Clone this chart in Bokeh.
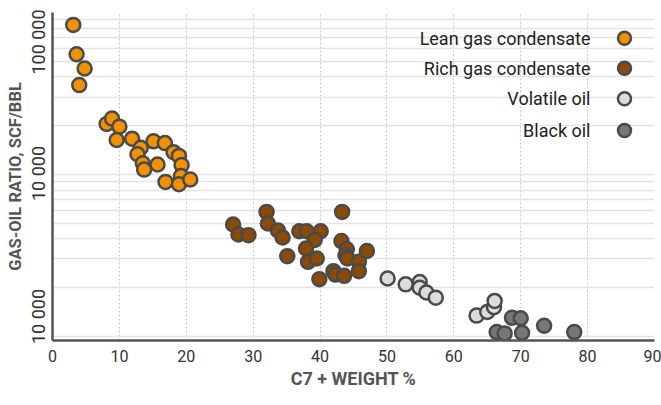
from bokeh.plotting import figure
from bokeh.models import Range1d, LinearScale, FixedTicker, Label, LinearAxis
from bokeh.embed import file_html
from bokeh.resources import INLINE

# ---- data ----
lean_x = [3.1, 3.6, 4.8, 4.0, 8.1, 8.9, 10.0, 9.6, 11.9, 13.2, 12.7, 15.1, 16.8, 18.1, 18.9,
          13.5, 15.7, 13.7, 19.3, 19.2, 16.9, 18.9, 20.6]
lean_y = [83800, 55200, 45100, 35600, 20500, 22100, 19700, 16300, 16600, 14600, 13300, 16000,
          15600, 13700, 13000, 11700, 11500, 10700, 11400, 9770, 8980, 8690, 9290]

rich_x = [27.0, 27.8, 29.3, 32.0, 32.2, 33.7, 34.4, 35.1, 36.9, 38.0, 40.1, 39.2, 37.9, 38.2,
          39.5, 39.9, 43.3, 43.2, 44.0, 43.8, 44.1, 45.8, 45.8, 47.0, 42.0, 42.3, 43.6]
rich_y = [4900, 4250, 4210, 5860, 4970, 4500, 4070, 3120, 4450, 4450, 4450, 3930, 3480, 2880,
          3020, 2250, 5860, 3870, 3440, 3160, 3020, 2880, 2520, 3360, 2520, 2400, 2360]

vol_x = [50.1, 52.8, 54.9, 54.9, 55.9, 57.3, 63.4, 65.0, 66.0, 66.1]
vol_y = [2270, 2090, 2160, 1990, 1860, 1730, 1340, 1410, 1510, 1650]

black_x = [66.4, 67.6, 68.7, 70.0, 70.2, 73.5, 78.0]
black_y = [1060, 1040, 1300, 1290, 1050, 1160, 1060]

series_names = ["Lean gas condensate", "Rich gas condensate", "Volatile oil", "Black oil"]
series_colors = ["#F39200", "#8C4A05", "#DCDCDC", "#777777"]

x_ticks = [0, 10, 20, 30, 40, 50, 60, 70, 80, 90]
y_tick_labels = ["100 000", "10 000", "10 000"]
y_grid_values = [1000, 2000, 3000, 4000, 5000, 6000, 7000, 8000, 9000,
                 10000, 20000, 30000, 40000, 50000, 60000, 70000, 80000, 90000, 100000]

# ---- figure ----
FW, FH = 602, 328
p = figure(width=661, height=405, output_backend="svg", toolbar_location=None,
           x_range=Range1d(0, 90), y_range=Range1d(940, 100000), y_axis_type="log",
           frame_width=FW, frame_height=FH,
           min_border_left=52, min_border_right=7, min_border_top=12, min_border_bottom=65)
p.outline_line_color = None
p.background_fill_color = "white"
p.border_fill_color = "white"

# pixel-like helper ranges (measured from the frame's top-left corner)
p.extra_x_ranges = {"px": Range1d(0, FW)}
p.extra_y_ranges = {"px": Range1d(FH, 0)}
p.extra_x_scales = {"px": LinearScale()}
p.extra_y_scales = {"px": LinearScale()}

# grids
p.xgrid.ticker = FixedTicker(ticks=x_ticks)
p.xgrid.grid_line_color = "#c8c8c8"
p.xgrid.grid_line_dash = "2 2"
p.xgrid.grid_line_width = 1
p.ygrid.ticker = FixedTicker(ticks=y_grid_values)
p.ygrid.grid_line_color = "#e4e4e4"
p.ygrid.grid_line_width = 1.6

# x axis
axis_col = "#555555"
p.xaxis.ticker = FixedTicker(ticks=x_ticks)
p.xaxis.axis_line_color = axis_col
p.xaxis.axis_line_width = 2.5
p.xaxis.major_tick_line_color = None
p.xaxis.minor_tick_line_color = None
p.xaxis.major_tick_out = 0
p.xaxis.major_tick_in = 0
p.xaxis.major_label_standoff = 9
p.xaxis.major_label_text_align = "right"
p.xaxis.major_label_text_font = "Roboto"
p.xaxis.major_label_text_font_size = "16px"
p.xaxis.major_label_text_color = "#333333"
p.xaxis.axis_label = "C7 + WEIGHT %"
p.xaxis.axis_label_standoff = 3
p.xaxis.axis_label_text_font = "Roboto"
p.xaxis.axis_label_text_font_style = "bold"
p.xaxis.axis_label_text_font_size = "18px"
p.xaxis.axis_label_text_color = "#555555"

# main (log) y axis hidden; labels drawn by a helper axis so the end labels stay inside the frame
p.yaxis.visible = False
ylab_pos = [29.5, 161.0, 304.0]
yax = LinearAxis(y_range_name="px", ticker=FixedTicker(ticks=ylab_pos),
                 major_label_overrides={v: t for v, t in zip(ylab_pos, y_tick_labels)})
yax.axis_line_color = axis_col
yax.axis_line_width = 2.5
yax.major_tick_line_color = None
yax.minor_tick_line_color = None
yax.major_tick_out = 0
yax.major_tick_in = 0
yax.minor_tick_out = 0
yax.major_label_orientation = "vertical"
yax.major_label_standoff = 4
yax.major_label_text_font = "Roboto"
yax.major_label_text_font_size = "18px"
yax.major_label_text_color = "#333333"
yax.axis_label = "GAS-OIL RATIO, SCF/BBL"
yax.axis_label_standoff = 0
yax.axis_label_text_font = "Roboto"
yax.axis_label_text_font_style = "bold"
yax.axis_label_text_font_size = "16.5px"
yax.axis_label_text_color = "#555555"
p.add_layout(yax, "left")

# data
edge = "#4A4A4A"
for xs, ys, c in zip([lean_x, rich_x, vol_x, black_x], [lean_y, rich_y, vol_y, black_y],
                     series_colors):
    p.scatter(xs, ys, size=14, fill_color=c, line_color=edge, line_width=2.5)

# legend (label on the left, marker on the right)
leg_text_x = 538
leg_marker_x = 572
leg_rows = [25.7, 55.7, 86.3, 118.0]
for name, c, ry in zip(series_names, series_colors, leg_rows):
    p.add_layout(Label(x=leg_text_x, y=ry, x_range_name="px", y_range_name="px", text=name,
                       text_align="right", text_baseline="middle", text_font="Roboto",
                       text_font_size="18px", text_color="#222222"))
p.scatter([leg_marker_x] * 4, leg_rows, x_range_name="px", y_range_name="px", size=13,
          fill_color=series_colors, line_color=edge, line_width=2.5)

open("out.html", "w").write(file_html(p, INLINE))
